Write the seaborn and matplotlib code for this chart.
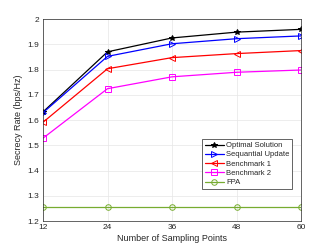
import pandas as pd
import matplotlib
matplotlib.use("Agg")
import matplotlib.pyplot as plt
import seaborn as sns

# Data
points = [12, 24, 36, 48, 60]
optimal = [1.632, 1.870, 1.925, 1.948, 1.959]
sequential = [1.629, 1.852, 1.902, 1.922, 1.933]
bench1 = [1.591, 1.803, 1.847, 1.863, 1.875]
bench2 = [1.528, 1.724, 1.771, 1.789, 1.798]
fpa = [1.255, 1.255, 1.255, 1.255, 1.255]

series = {
    "Optimal Solution": (optimal, "black", "*"),
    "Sequantial Update": (sequential, "blue", ">"),
    "Benchmark 1": (bench1, "red", "<"),
    "Benchmark 2": (bench2, "magenta", "s"),
    "FPA": (fpa, "#77AC30", "o"),
}

sns.set_style("whitegrid")
plt.rcParams["font.family"] = ["Liberation Sans", "DejaVu Sans"]

fig = plt.figure(figsize=(3.32, 2.49), dpi=100)
ax = fig.add_axes([43 / 332, 28 / 249, 258 / 332, 202 / 249])

for name, (vals, color, marker) in series.items():
    df = pd.DataFrame({"x": points, "y": vals})
    filled = marker == "*"
    sns.lineplot(data=df, x="x", y="y", ax=ax, color=color, marker=marker,
                 markersize=4 if not filled else 3.8,
                 markerfacecolor=color if filled else "none",
                 markeredgecolor=color, markeredgewidth=0.7,
                 linewidth=0.9, label=name)

ax.set_xlim(12, 60)
ax.set_ylim(1.2, 2.0)
ax.set_xticks(points)
ax.set_yticks([1.2, 1.3, 1.4, 1.5, 1.6, 1.7, 1.8, 1.9, 2.0])
ax.set_yticklabels(["1.2", "1.3", "1.4", "1.5", "1.6", "1.7", "1.8", "1.9", "2"])
ax.tick_params(labelsize=6, length=2, direction="in", pad=2.5, colors="#262626")
ax.set_xlabel("Number of Sampling Points", fontsize=6.5, color="#262626", labelpad=2)
ax.set_ylabel("Secrecy Rate (bps/Hz)", fontsize=6.5, color="#262626", labelpad=3)
ax.grid(True, color="#e6e6e6", linewidth=0.5)
for s in ax.spines.values():
    s.set_color("#262626")
    s.set_linewidth(0.5)

leg = ax.legend(loc="lower right", bbox_to_anchor=(0.98, 0.14), fontsize=5.5,
                frameon=True, fancybox=False, handlelength=2.5,
                borderpad=0.35, labelspacing=0.25, handletextpad=0.3)
leg.get_frame().set_edgecolor("#262626")
leg.get_frame().set_linewidth(0.5)
leg.get_frame().set_alpha(1)

fig.savefig("out.png", dpi=100)
